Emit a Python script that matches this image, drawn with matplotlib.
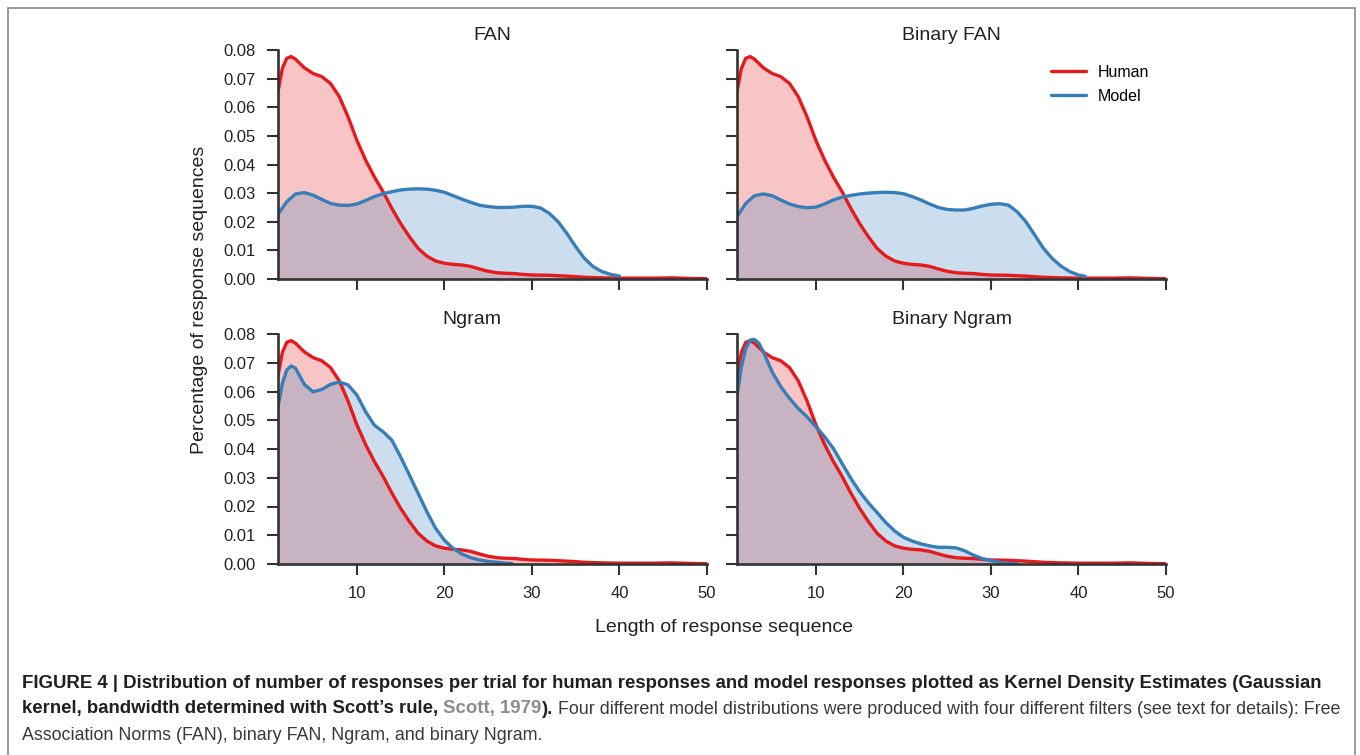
import matplotlib
matplotlib.use('Agg')

import matplotlib.pyplot as plt
import numpy as np
from matplotlib.patches import Rectangle

plt.rcParams['font.family'] = ['Liberation Sans', 'DejaVu Sans']

# human KDE, same in every panel
human_x = [1, 1.5, 2, 2.5, 3, 4, 5, 6, 7, 8, 9, 10, 11, 12, 13, 14, 15, 16, 17, 18,
           19, 20, 21, 22, 23, 24, 25, 26, 27, 28, 29, 30, 32, 34, 36, 38, 40, 42,
           44, 46, 48, 50]
human_y = [0.0655, 0.0736, 0.0771, 0.0777, 0.0768, 0.0738, 0.0718, 0.0707, 0.0683,
           0.0637, 0.0567, 0.0485, 0.0416, 0.0357, 0.0305, 0.0247, 0.0194, 0.0148,
           0.0107, 0.0080, 0.0063, 0.0055, 0.0051, 0.0049, 0.0044, 0.0035, 0.0027,
           0.0022, 0.0020, 0.0019, 0.0016, 0.0014, 0.0013, 0.0010, 0.0006, 0.0004,
           0.0003, 0.0003, 0.0003, 0.0004, 0.0002, 0.0001]

# model KDEs, one per filter
fan_x = list(range(1, 41))
fan_y = [0.0226, 0.0270, 0.0297, 0.0302, 0.0293, 0.0278, 0.0264, 0.0258, 0.0257, 0.0262,
         0.0274, 0.0288, 0.0298, 0.0305, 0.0311, 0.0314, 0.0315, 0.0314, 0.0310, 0.0303,
         0.0291, 0.0279, 0.0268, 0.0258, 0.0253, 0.0250, 0.0250, 0.0251, 0.0254, 0.0254,
         0.0248, 0.0229, 0.0200, 0.0159, 0.0113, 0.0072, 0.0043, 0.0026, 0.0016, 0.0010]

bfan_x = list(range(1, 41)) + [40.8]
bfan_y = [0.0218, 0.0264, 0.0291, 0.0297, 0.0291, 0.0276, 0.0262, 0.0253, 0.0249, 0.0251,
          0.0262, 0.0276, 0.0286, 0.0292, 0.0297, 0.0300, 0.0302, 0.0303, 0.0302, 0.0298,
          0.0288, 0.0276, 0.0262, 0.0250, 0.0243, 0.0241, 0.0241, 0.0247, 0.0255, 0.0261,
          0.0263, 0.0258, 0.0235, 0.0200, 0.0154, 0.0107, 0.0072, 0.0045, 0.0026, 0.0014,
          0.0009]

ngram_x = [1, 1.5, 2, 2.5, 3] + list(range(4, 28)) + [27.7]
ngram_y = [0.0547, 0.0628, 0.0675, 0.0689, 0.0681, 0.0625, 0.0599, 0.0607, 0.0625, 0.0633,
           0.0623, 0.0588, 0.0530, 0.0483, 0.0460, 0.0431, 0.0373, 0.0310, 0.0246, 0.0182,
           0.0124, 0.0083, 0.0054, 0.0035, 0.0022, 0.0014, 0.0009, 0.0006, 0.0003, 0.0002]

bngram_x = [1, 1.5, 2, 2.5, 3, 3.5] + list(range(4, 34))
bngram_y = [0.0582, 0.0686, 0.0750, 0.0779, 0.0781, 0.0768, 0.0739, 0.0669, 0.0617, 0.0576,
            0.0541, 0.0512, 0.0478, 0.0443, 0.0402, 0.0350, 0.0298, 0.0252, 0.0213, 0.0179,
            0.0144, 0.0115, 0.0093, 0.0080, 0.0070, 0.0063, 0.0058, 0.0058, 0.0056, 0.0046,
            0.0031, 0.0019, 0.0012, 0.0006, 0.0002, 0.0001]

titles = ["FAN", "Binary FAN", "Ngram", "Binary Ngram"]
models = [(fan_x, fan_y), (bfan_x, bfan_y), (ngram_x, ngram_y), (bngram_x, bngram_y)]

xticks = [10, 20, 30, 40, 50]
yticks = [0.00, 0.01, 0.02, 0.03, 0.04, 0.05, 0.06, 0.07, 0.08]

RED = "#e41a1c"
BLUE = "#377eb8"
DARK = "#333333"
W, H = 1360, 755

fig = plt.figure(figsize=(13.6, 7.55), dpi=100)

# axes boxes in pixels: left, top, right, bottom
boxes = [(278, 50, 707, 279), (737, 50, 1166, 279),
         (278, 334, 707, 564), (737, 334, 1166, 564)]

axes = []
for i, (l, t, r, b) in enumerate(boxes):
    ax = fig.add_axes([l / W, 1 - b / H, (r - l) / W, (b - t) / H])
    mx, my = models[i]
    ax.fill_between(human_x, human_y, color=RED, alpha=0.25, lw=0)
    ax.plot(human_x, human_y, color=RED, lw=2.4, label="Human",
            solid_joinstyle="round", solid_capstyle="round")
    ax.fill_between(mx, my, color=BLUE, alpha=0.25, lw=0)
    ax.plot(mx, my, color=BLUE, lw=2.4, label="Model",
            solid_joinstyle="round", solid_capstyle="round")

    ax.set_xlim(1, 50)
    ax.set_ylim(0, 0.08)
    ax.set_xticks(xticks)
    ax.set_yticks(yticks)
    ax.yaxis.set_major_formatter(matplotlib.ticker.FormatStrFormatter("%.2f"))
    ax.spines[["top", "right"]].set_visible(False)
    for s in ["left", "bottom"]:
        ax.spines[s].set_linewidth(1.9)
        ax.spines[s].set_color(DARK)
    ax.tick_params(direction="out", length=8, width=1.5, color=DARK, pad=8,
                   labelsize=12, labelcolor="#222222")
    if i < 2:
        ax.tick_params(labelbottom=False)
    if i % 2 == 1:
        ax.tick_params(labelleft=False)
    tx = 0.452 if i == 2 else 0.5
    ax.set_title(titles[i], fontsize=14, color="#222222", pad=7, x=tx)
    axes.append(ax)

axes[1].legend(loc="upper left", bbox_to_anchor=(1051 / W, 1 - 65 / H),
               bbox_transform=fig.transFigure, frameon=False, fontsize=11.5,
               handlelength=2.2, handletextpad=0.75, borderpad=0,
               borderaxespad=0, labelspacing=0.55)

fig.text(200 / W, 1 - 300 / H, "Percentage of response sequences", rotation=90,
         ha="center", va="center", fontsize=14, color="#222222")
fig.text(724 / W, 1 - 627 / H, "Length of response sequence",
         ha="center", va="center", fontsize=14, color="#222222")

# frame around the figure panel
fig.add_artist(Rectangle((8 / W, -0.02), (1355 - 8) / W, (755 - 8) / H + 0.02,
                         transform=fig.transFigure, fill=False, ec="#8a8a8a", lw=1.2))

# caption
cap = fig.add_axes([0, 0, 1, 1])
cap.axis("off")
cap.set_zorder(5)
CAP = "#231f20"
REG = "#3a3a3a"
fs = 12
l1 = cap.text(22 / W, 1 - 683 / H,
              "FIGURE 4 | Distribution of number of responses per trial for human responses "
              "and model responses plotted as Kernel Density Estimates (Gaussian",
              fontsize=fs, fontweight="bold", color=CAP, va="center", transform=cap.transAxes)
fig.canvas.draw()
rend = fig.canvas.get_renderer()
fs = fs * 1298 / l1.get_window_extent(rend).width
l1.set_fontsize(fs)

p1 = cap.text(22 / W, 1 - 709 / H, "kernel, bandwidth determined with Scott\u2019s rule,",
              fontsize=fs, fontweight="bold", color=CAP, va="center", transform=cap.transAxes)
sp = 0.278 * fs
p2 = cap.annotate("Scott, 1979", xy=(1, 0), xycoords=p1, xytext=(sp, 0),
                  textcoords="offset points", va="bottom", fontsize=fs,
                  fontweight="bold", color="#8c8c8c")
p3 = cap.annotate(").", xy=(1, 0), xycoords=p2, va="bottom", fontsize=fs,
                  fontweight="bold", color=CAP)
p4 = cap.annotate("Four different model distributions were produced with four different "
                  "filters (see text for details): Free", xy=(1, 0), xycoords=p3,
                  xytext=(sp, 0), textcoords="offset points", va="bottom",
                  fontsize=fs, color=REG)
# the regular caption face is narrower: fit the end of line 2 to the frame
fig.canvas.draw()
e3 = p3.get_window_extent(rend)
e4 = p4.get_window_extent(rend)
fs_reg = fs * (1338 - e3.x1 - sp * 100 / 72) / e4.width
p4.set_fontsize(fs_reg)
cap.text(22 / W, 1 - 735 / H,
         "Association Norms (FAN), binary FAN, Ngram, and binary Ngram.",
         fontsize=fs_reg, color=REG, va="center", transform=cap.transAxes)

plt.savefig("out.png", dpi=100)
